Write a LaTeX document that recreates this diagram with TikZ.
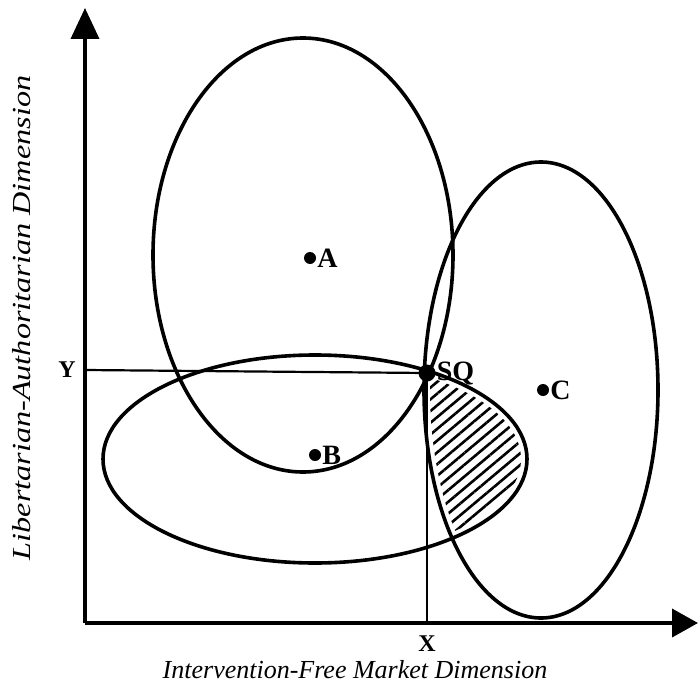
\documentclass[tikz,border=0pt]{standalone}
\usepackage{fontspec}
\setmainfont{Liberation Serif}
\usetikzlibrary{arrows.meta,patterns.meta}
\begin{document}
\begin{tikzpicture}[x=1pt,y=-1pt,
  curve/.style={line width=3.6pt},
  axisline/.style={line width=3.8pt},
  guide/.style={line width=2.2pt},
  dot/.style={circle,fill,inner sep=0pt,minimum size=12pt},
  bigdot/.style={circle,fill,inner sep=0pt,minimum size=17pt},
  ptlab/.style={font=\bfseries\fontsize{28}{28}\selectfont,inner sep=1pt,anchor=west},
  axlab/.style={font=\bfseries\fontsize{24}{24}\selectfont,inner sep=0pt},
  dimlab/.style={font=\itshape\fontsize{26}{26}\selectfont,inner sep=0pt},
  hatch/.style={pattern={Lines[angle=40,distance=9pt,line width=2.6pt]}}
  ]
\useasboundingbox (0,0) rectangle (698,690);
% hatched region (B intersect C)
\begin{scope}
  \clip (315,459) ellipse [x radius=206, y radius=98];
  \fill[hatch] (541,390) ellipse [x radius=111, y radius=222];
\end{scope}
% indifference ellipses
\draw[curve] (303,255) ellipse [x radius=150, y radius=217];
\draw[curve] (315,459) ellipse [x radius=212, y radius=104];
\draw[curve] (541,390) ellipse [x radius=117, y radius=228];
% axes
\coordinate (O) at (85,623);
\coordinate (ytop) at (85,8);
\coordinate (xend) at (698,623);
\draw[axisline,-{Triangle[length=31pt,width=28pt]}] (O) -- (ytop);
\draw[axisline,-{Triangle[length=26pt,width=28pt]}] (O) -- (xend);
% status quo
\node[bigdot] (sq) at (427,373) {};
\node[ptlab] (sqlab) at ([xshift=0pt]sq.east) {SQ};
\coordinate (yax) at (85,370);
\coordinate (xax) at (427,623);
\draw[guide] (yax) -- (sq.center);
\draw[guide] (sq.center) -- (xax);
\node[axlab,anchor=east] (ylab) at ([xshift=-9pt]yax) {Y};
\node[axlab,anchor=north] (xlab) at ([yshift=-13pt]xax) {X};
% ideal points
\node[dot] (a) at (310,258) {};
\node[ptlab] (alab) at (a.east) {A};
\node[dot] (b) at (315,455) {};
\node[ptlab] (blab) at (b.east) {B};
\node[dot] (c) at (543,390) {};
\node[ptlab] (clab) at (c.east) {C};
% dimension labels
\node[dimlab] (xdim) at (355,670) {Intervention-Free Market Dimension};
\node[dimlab,rotate=90] (ydim) at (22,318) {\scalebox{1.24}[1]{Libertarian-Authoritarian Dimension}};
\end{tikzpicture}
\end{document}
